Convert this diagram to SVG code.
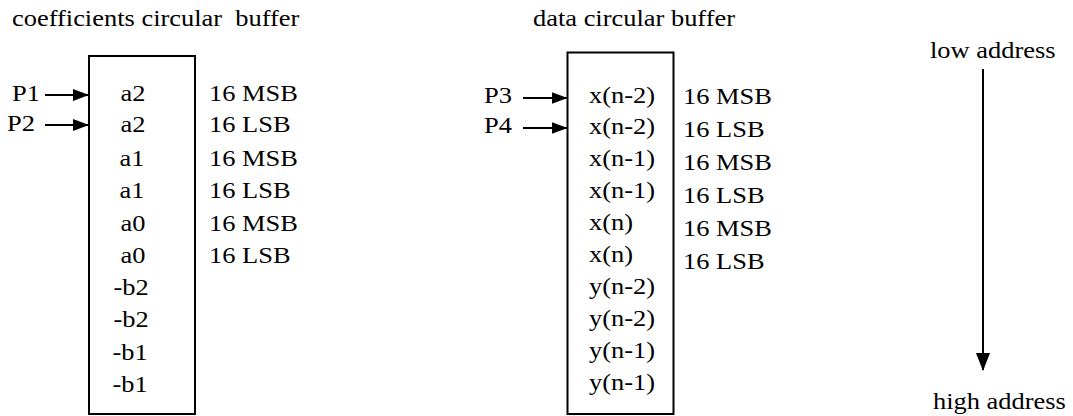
<svg xmlns="http://www.w3.org/2000/svg" width="1073" height="416" viewBox="0 0 1073 416">
  <style>
    text { font-family: 'Liberation Serif', serif; font-size: 23px; fill: #000; }
    .c { text-anchor: middle; }
    .box { fill: #fff; stroke: #000; stroke-width: 2; }
    .ln { stroke: #000; stroke-width: 2; fill: none; }
  </style>
  <defs>
    <marker id="ah" markerUnits="userSpaceOnUse" markerWidth="16" markerHeight="12" refX="15" refY="6" orient="auto">
      <path d="M0,0 L16,6 L0,12 Z" fill="#000"/>
    </marker>
    <marker id="ahv" markerUnits="userSpaceOnUse" markerWidth="18" markerHeight="14" refX="17" refY="7" orient="auto">
      <path d="M0,0 L18,7 L0,14 Z" fill="#000"/>
    </marker>
  </defs>

  <rect width="1073" height="416" fill="#fff"/>

  <g id="titles">
    <text style="white-space:pre" transform="matrix(1.15 0 0 1 12 26)">coefficients circular  buffer</text>
    <text transform="matrix(1.15 0 0 1 533 26)">data circular buffer</text>
  </g>

  <g id="coef-buffer">
    <rect class="box" x="89" y="56" width="106" height="358"/>
    <text class="c" transform="matrix(1.15 0 0 1 133 101)">a2</text>
    <text class="c" transform="matrix(1.15 0 0 1 133 132)">a2</text>
    <text class="c" transform="matrix(1.15 0 0 1 132 166)">a1</text>
    <text class="c" transform="matrix(1.15 0 0 1 132 198)">a1</text>
    <text class="c" transform="matrix(1.15 0 0 1 133 230.5)">a0</text>
    <text class="c" transform="matrix(1.15 0 0 1 133 263)">a0</text>
    <text class="c" transform="matrix(1.15 0 0 1 131 295)">-b2</text>
    <text class="c" transform="matrix(1.15 0 0 1 131 327)">-b2</text>
    <text class="c" transform="matrix(1.15 0 0 1 130 359.5)">-b1</text>
    <text class="c" transform="matrix(1.15 0 0 1 130 392)">-b1</text>
  </g>

  <g id="coef-sizes">
    <text transform="matrix(1.15 0 0 1 209 101)">16 MSB</text>
    <text transform="matrix(1.15 0 0 1 209 132)">16 LSB</text>
    <text transform="matrix(1.15 0 0 1 209 166)">16 MSB</text>
    <text transform="matrix(1.15 0 0 1 209 198)">16 LSB</text>
    <text transform="matrix(1.15 0 0 1 209 230.5)">16 MSB</text>
    <text transform="matrix(1.15 0 0 1 209 263)">16 LSB</text>
  </g>

  <g id="coef-pointers">
    <text transform="matrix(1.15 0 0 1 12 101)">P1</text>
    <text transform="matrix(1.15 0 0 1 7 131)">P2</text>
  </g>

  <g id="data-buffer">
    <rect class="box" x="567.5" y="52.5" width="106" height="361.5"/>
    <text transform="matrix(1.15 0 0 1 589 103)">x(n-2)</text>
    <text transform="matrix(1.15 0 0 1 589 134)">x(n-2)</text>
    <text transform="matrix(1.15 0 0 1 589 166)">x(n-1)</text>
    <text transform="matrix(1.15 0 0 1 589 198)">x(n-1)</text>
    <text transform="matrix(1.15 0 0 1 589 230)">x(n)</text>
    <text transform="matrix(1.15 0 0 1 589 262)">x(n)</text>
    <text transform="matrix(1.15 0 0 1 589 294)">y(n-2)</text>
    <text transform="matrix(1.15 0 0 1 589 326)">y(n-2)</text>
    <text transform="matrix(1.15 0 0 1 589 358)">y(n-1)</text>
    <text transform="matrix(1.15 0 0 1 589 390)">y(n-1)</text>
  </g>

  <g id="data-sizes">
    <text transform="matrix(1.15 0 0 1 683 104)">16 MSB</text>
    <text transform="matrix(1.15 0 0 1 683 137)">16 LSB</text>
    <text transform="matrix(1.15 0 0 1 683 170)">16 MSB</text>
    <text transform="matrix(1.15 0 0 1 683 203)">16 LSB</text>
    <text transform="matrix(1.15 0 0 1 683 236)">16 MSB</text>
    <text transform="matrix(1.15 0 0 1 683 269)">16 LSB</text>
  </g>

  <g id="data-pointers">
    <text transform="matrix(1.15 0 0 1 484 103)">P3</text>
    <text transform="matrix(1.15 0 0 1 484 133)">P4</text>
  </g>

  <g id="address-labels">
    <text transform="matrix(1.15 0 0 1 930 58)">low address</text>
    <text transform="matrix(1.15 0 0 1 933 409)">high address</text>
  </g>

  <g id="connectors">
    <line class="ln" x1="45" y1="95" x2="88" y2="95" marker-end="url(#ah)"/>
    <line class="ln" x1="45" y1="125" x2="88" y2="125" marker-end="url(#ah)"/>
    <line class="ln" x1="523" y1="98" x2="566.5" y2="98" marker-end="url(#ah)"/>
    <line class="ln" x1="523" y1="128" x2="566.5" y2="128" marker-end="url(#ah)"/>
    <line class="ln" x1="983" y1="69" x2="983" y2="370" marker-end="url(#ahv)"/>
  </g>
</svg>
